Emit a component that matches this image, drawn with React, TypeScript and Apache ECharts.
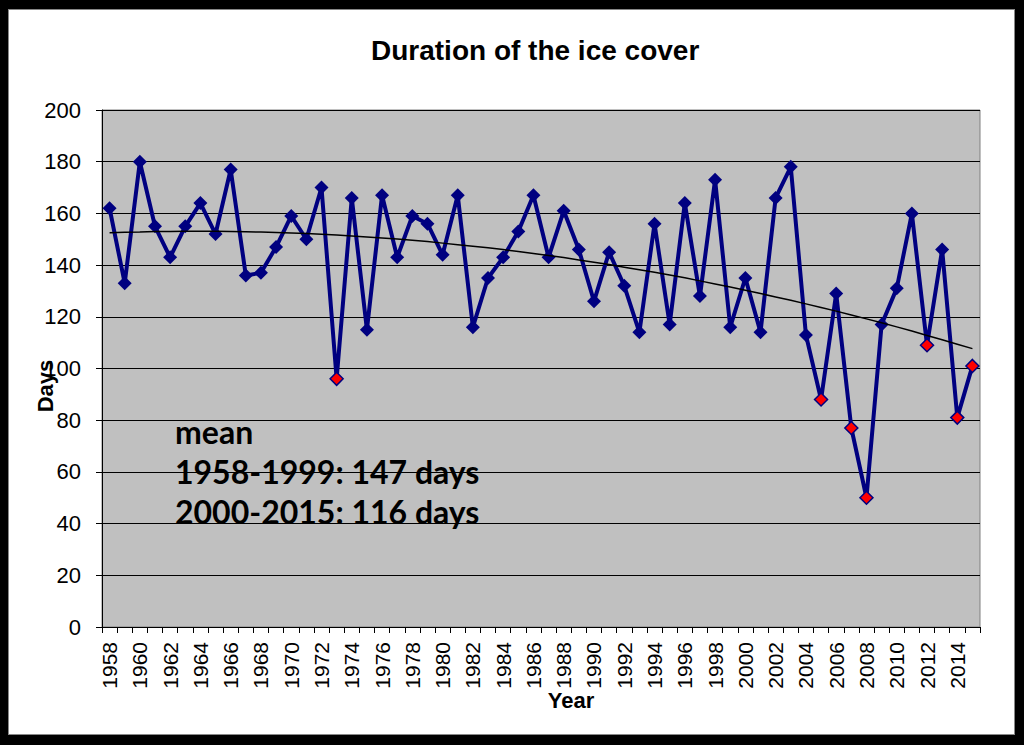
import React, { useEffect, useRef } from "react";
import * as echarts from "echarts";

const years: string[] = [
  "1958","1959","1960","1961","1962","1963","1964","1965","1966","1967",
  "1968","1969","1970","1971","1972","1973","1974","1975","1976","1977",
  "1978","1979","1980","1981","1982","1983","1984","1985","1986","1987",
  "1988","1989","1990","1991","1992","1993","1994","1995","1996","1997",
  "1998","1999","2000","2001","2002","2003","2004","2005","2006","2007",
  "2008","2009","2010","2011","2012","2013","2014","2015",
];

const days: number[] = [
  162, 133, 180, 155, 143, 155, 164, 152, 177, 136,
  137, 147, 159, 150, 170, 96, 166, 115, 167, 143,
  159, 156, 144, 167, 116, 135, 143, 153, 167, 143,
  161, 146, 126, 145, 132, 114, 156, 117, 164, 128,
  173, 116, 135, 114, 166, 178, 113, 88, 129, 77,
  50, 117, 131, 160, 109, 146, 81, 101,
];

const trend: number[] = [
  152.5, 152.7, 152.8, 153.0, 153.0, 153.1, 153.1, 153.1, 153.0, 152.9,
  152.8, 152.6, 152.4, 152.2, 151.9, 151.6, 151.3, 150.9, 150.5, 150.1,
  149.6, 149.1, 148.5, 147.9, 147.3, 146.7, 146.0, 145.3, 144.5, 143.7,
  142.9, 142.0, 141.1, 140.2, 139.2, 138.2, 137.2, 136.2, 135.1, 133.9,
  132.7, 131.5, 130.3, 129.0, 127.7, 126.4, 125.0, 123.6, 122.2, 120.7,
  119.2, 117.7, 116.1, 114.5, 112.8, 111.1, 109.4, 107.7,
];

const highlightedYears: string[] = ["1973", "2005", "2007", "2008", "2012", "2014", "2015"];

const titleText = "Duration of the ice cover";
const yAxisName = "Days";
const xAxisName = "Year";
const noteLines: string[] = ["mean", "1958-1999: 147 days", "2000-2015: 116 days"];

export default function App() {
  const ref = useRef<HTMLDivElement>(null);

  useEffect(() => {
    if (!ref.current) return;
    const chart = echarts.init(ref.current, undefined, { renderer: "svg" });
    const navy = "#000080";
    const font = "'Liberation Sans', Arial, sans-serif";

    const seriesData = days.map((v, i) =>
      highlightedYears.includes(years[i])
        ? {
            value: v,
            symbolSize: 13,
            itemStyle: { color: "#ff0000", borderColor: navy, borderWidth: 1.5 },
          }
        : { value: v }
    );

    chart.setOption({
      animation: false,
      backgroundColor: "transparent",
      title: {
        text: titleText,
        left: 366,
        top: 31,
        textStyle: { fontFamily: font, fontSize: 28, fontWeight: "bold", color: "#000" },
      },
      grid: {
        left: 102,
        right: 44,
        top: 110,
        bottom: 118,
        show: true,
        backgroundColor: "#c0c0c0",
        borderColor: "#808080",
        borderWidth: 1,
      },
      xAxis: {
        type: "category",
        data: years,
        boundaryGap: true,
        axisLine: { show: true, lineStyle: { color: "#000", width: 1 } },
        axisTick: { show: true, interval: 0, length: 6, lineStyle: { color: "#000" } },
        axisLabel: {
          interval: 1,
          rotate: 90,
          fontSize: 21,
          fontFamily: font,
          color: "#000",
          margin: 15,
        },
        splitLine: { show: false },
      },
      yAxis: {
        type: "value",
        min: 0,
        max: 200,
        interval: 20,
        axisLine: { show: true, lineStyle: { color: "#000", width: 1 } },
        axisTick: { show: true, length: 6, lineStyle: { color: "#000" } },
        axisLabel: {
          fontSize: 22,
          fontFamily: font,
          color: "#000",
          margin: 21,
        },
        splitLine: { show: true, lineStyle: { color: "#000", width: 1 } },
      },
      series: [
        {
          type: "line",
          data: seriesData,
          symbol: "diamond",
          symbolSize: 14,
          showAllSymbol: true,
          lineStyle: { color: navy, width: 4 },
          itemStyle: { color: navy },
          z: 3,
        },
        {
          type: "line",
          data: trend,
          symbol: "none",
          smooth: false,
          lineStyle: { color: "#000", width: 1.5 },
          z: 4,
        },
      ],
      graphic: [
        {
          type: "text",
          x: 45,
          y: 386,
          rotation: Math.PI / 2,
          z: 100,
          style: {
            text: yAxisName,
            font: `bold 22px ${font}`,
            fill: "#000",
            textAlign: "center",
            textVerticalAlign: "middle",
          },
        },
        {
          type: "text",
          x: 571,
          y: 700,
          z: 100,
          style: {
            text: xAxisName,
            font: `bold 22px ${font}`,
            fill: "#000",
            textAlign: "center",
            textVerticalAlign: "middle",
          },
        },
        ...noteLines.map((t, i) => ({
          type: "text",
          x: 175,
          y: 431 + i * 40,
          z: 100,
          style: {
            text: t,
            font: "bold 32px Lato, 'Open Sans', sans-serif",
            fill: "#000",
            textAlign: "left",
            textVerticalAlign: "middle",
          },
        })),
      ],
    });

    return () => chart.dispose();
  }, []);

  return (
    <div style={{ position: "absolute", left: 0, top: 0, width: 1024, height: 745, background: "#000" }}>
      <div
        style={{
          position: "absolute",
          left: 8,
          top: 9,
          width: 1007,
          height: 726,
          background: "#fff",
          boxShadow: "inset 0 0 0 1px #888",
        }}
      />
      <div ref={ref} style={{ position: "absolute", left: 0, top: 0, width: 1024, height: 745 }} />
    </div>
  );
}
